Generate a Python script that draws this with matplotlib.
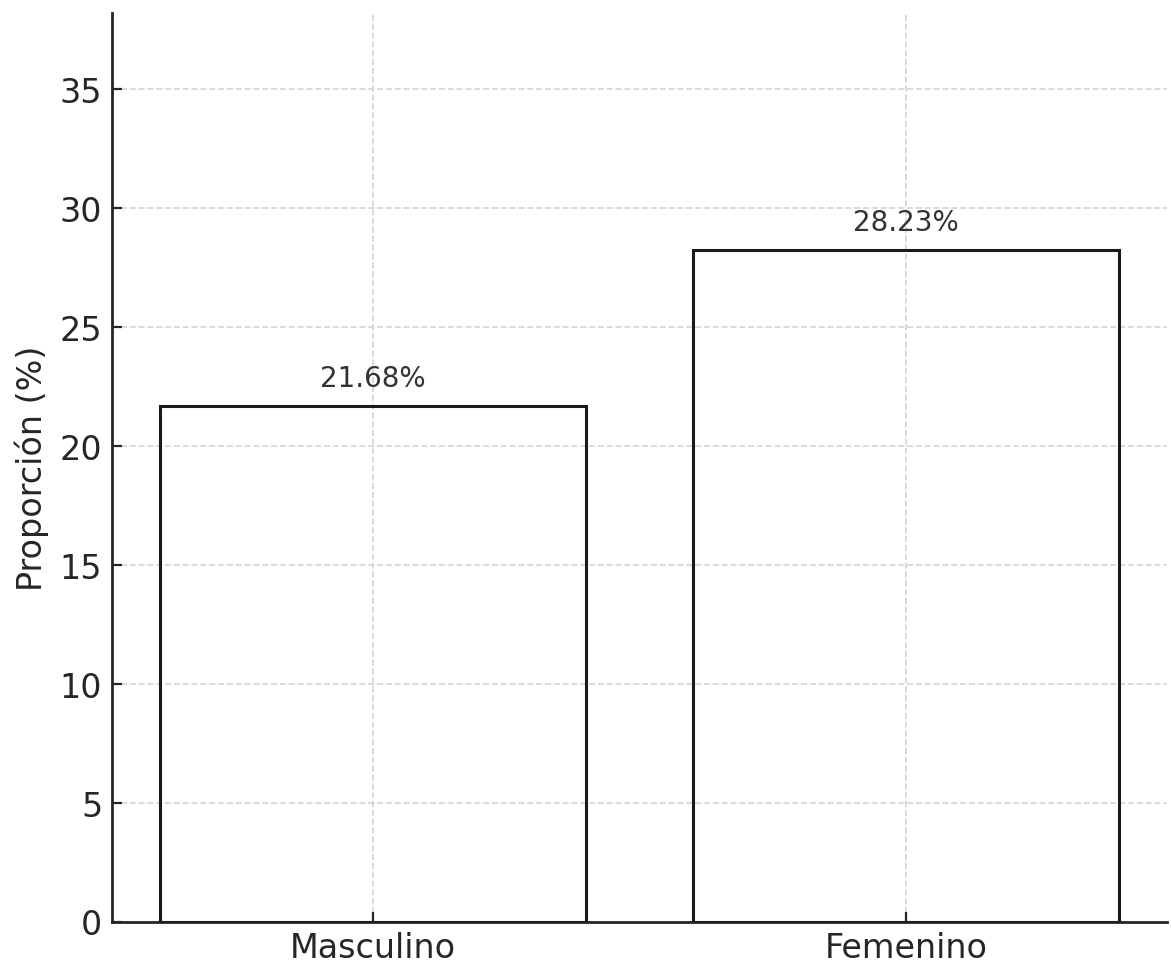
import matplotlib
matplotlib.use("Agg")
import matplotlib.pyplot as plt

categories = ["Masculino", "Femenino"]
values = [21.68, 28.23]

W, H, DPI = 1171, 962, 200
fig = plt.figure(figsize=(W / DPI, H / DPI), dpi=DPI)
ax = fig.add_axes([112 / W, 1 - 922.5 / H, (1167 - 112) / W, (922.5 - 13.5) / H])

x = list(range(len(categories)))
bars = ax.bar(x, values, width=0.8, facecolor="none", edgecolor="#1a1a1a", linewidth=1.1, zorder=3)
for xi, v in zip(x, values):
    ax.annotate(f"{v:.2f}%", xy=(xi, v), xytext=(0, 10), textcoords="offset points",
                ha="center", va="center", fontsize=10, color="#333333")

ax.set_xticks(x)
ax.set_xticklabels(categories, fontsize=12, color="#262626")
ax.set_xlim(-0.49, 1.49)
ax.set_ylim(0, max(values) + 10)
ax.set_yticks([0, 5, 10, 15, 20, 25, 30, 35])
ax.tick_params(axis="y", labelsize=12, labelcolor="#262626")
ax.tick_params(direction="in", length=3.5, width=0.8, color="#262626")
ax.set_ylabel("Proporción (%)", fontsize=12, color="#262626")
ax.grid(True, linestyle="--", color="#d0d0d0", linewidth=0.6, alpha=0.9, zorder=0)
ax.set_axisbelow(True)
for s in ["top", "right"]:
    ax.spines[s].set_visible(False)
for s in ["left", "bottom"]:
    ax.spines[s].set_color("#262626")
    ax.spines[s].set_linewidth(1.0)

fig.savefig("out.png", dpi=DPI)
